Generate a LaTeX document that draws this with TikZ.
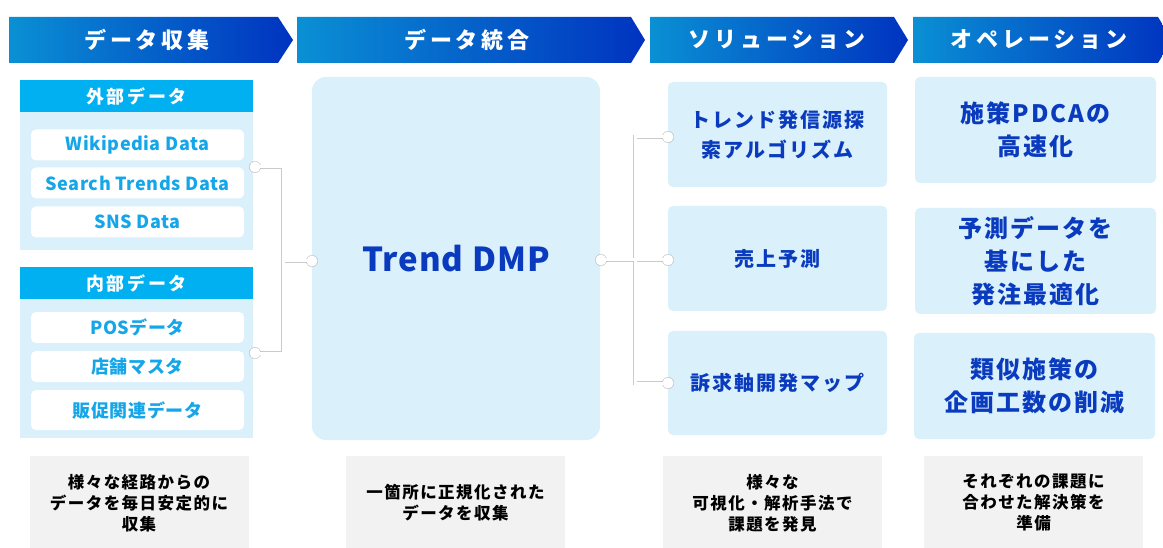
\documentclass[tikz,border=0pt]{standalone}
\usepackage{fontspec}
\setmainfont{Noto Sans CJK JP}
\usetikzlibrary{calc}
\definecolor{hdrL}{HTML}{0A90D4}
\definecolor{hdrR}{HTML}{0033C0}
\definecolor{cyanH}{HTML}{00B0F0}
\definecolor{panelC}{HTML}{DAF0FA}
\definecolor{itemT}{HTML}{14A6E8}
\definecolor{darkT}{HTML}{0A3BBE}
\definecolor{grayB}{HTML}{F2F2F2}
\definecolor{shadowC}{HTML}{B4B4B4}
\tikzset{
  hdrtext/.style={text=white,font=\bfseries\fontsize{22}{26}\selectfont\addfontfeatures{LetterSpace=18}},
  panelhdr/.style={fill=cyanH,minimum width=233pt,minimum height=32pt,inner sep=0pt,text=white,font=\bfseries\fontsize{18}{22}\selectfont\addfontfeatures{LetterSpace=15}},
  panelbody/.style={fill=panelC,minimum width=233pt,inner sep=0pt},
  itembox/.style={fill=white,rounded corners=5pt,minimum width=213pt,minimum height=31pt,inner sep=0pt,text=itemT,font=\bfseries\fontsize{18}{22}\selectfont\addfontfeatures{LetterSpace=3}},
  dmpbox/.style={fill=panelC,rounded corners=14pt,minimum width=288pt,minimum height=363pt,inner sep=0pt,text=darkT,font=\bfseries\fontsize{33}{38}\selectfont\addfontfeatures{LetterSpace=3}},
  solbox/.style={fill=panelC,rounded corners=5pt,minimum width=219pt,minimum height=105pt,inner sep=0pt,text=darkT,align=center,font=\bfseries\fontsize{20}{30}\selectfont\addfontfeatures{LetterSpace=10}},
  opbox/.style={fill=panelC,rounded corners=5pt,minimum width=241pt,minimum height=106pt,inner sep=0pt,text=darkT,align=center,font=\bfseries\fontsize{24}{33}\selectfont\addfontfeatures{LetterSpace=8}},
  notebox/.style={fill=grayB,minimum width=219pt,minimum height=94pt,inner sep=0pt,text=black,align=center,font=\bfseries\fontsize{16.5}{21}\selectfont\addfontfeatures{LetterSpace=9}},
  dotnode/.style={circle,fill=white,minimum size=11pt,inner sep=0pt},
  connshadow/.style={draw=shadowC,line width=4pt,opacity=0.7},
  conn/.style={draw=white,line width=3pt},
}
\newcommand{\chev}[3]{%
  \shade[left color=hdrL,right color=hdrR] (#1,17) -- (#2,17) -- (#3,40) -- (#2,63) -- (#1,63) -- cycle;}
\begin{document}
\begin{tikzpicture}[x=1pt,y=-1pt]
\useasboundingbox (0,0) rectangle (1163,548);
\fill[white] (0,0) rectangle (1163,548);
\begin{scope}
\clip (0,0) rectangle (1163,548);
% header chevrons
\chev{9}{278}{293}
\chev{297}{631}{645}
\chev{650}{894}{908}
\chev{913}{1158}{1172}
\end{scope}
\node[hdrtext] (h1) at (147,40) {データ収集};
\node[hdrtext] (h2) at (467,40) {データ統合};
\node[hdrtext] (h3) at (777,40) {ソリューション};
\node[hdrtext] (h4) at (1039,40) {オペレーション};

% left panels
\node[panelbody,minimum height=138pt] (extb) at (136.5,181) {};
\node[panelhdr] (exth) at (136.5,96) {外部データ};
\node[itembox] (wiki) at (137.5,145) {Wikipedia Data};
\node[itembox] (search) at (137.5,183) {Search Trends Data};
\node[itembox] (sns) at (137.5,222) {SNS Data};

\node[panelbody,minimum height=139pt] (intb) at (136.5,368.5) {};
\node[panelhdr] (inth) at (136.5,283) {内部データ};
\node[itembox] (pos) at (137.5,327.5) {POSデータ};
\node[itembox] (store) at (137.5,366.5) {店舗マスタ};
\node[itembox,minimum height=40pt] (promo) at (137.5,410) {販促関連データ};

% DMP
\node[dmpbox] (dmp) at (456,258.5) {Trend DMP};

% solutions
\node[solbox] (s1) at (777.5,134.5) {トレンド発信源探\\索アルゴリズム};
\node[solbox] (s2) at (777.5,258.5) {売上予測};
\node[solbox,minimum height=104pt] (s3) at (777.5,383) {訴求軸開発マップ};

% operations
\node[opbox] (o1) at (1035.5,130) {施策PDCAの\\高速化};
\node[opbox] (o2) at (1035.5,261) {予測データを\\基にした\\発注最適化};
\node[opbox] (o3) at (1034.5,386) {類似施策の\\企画工数の削減};

% notes
\node[notebox] (n1) at (139,503) {様々な経路からの\\データを毎日安定的に\\収集};
\node[notebox] (n2) at (455.5,503) {一箇所に正規化された\\データを収集};
\node[notebox] (n3) at (772.5,503) {様々な\\可視化・解析手法で\\課題を発見};
\node[notebox] (n4) at (1033.5,503) {それぞれの課題に\\合わせた解決策を\\準備};

% connector points
\coordinate (dA) at (255,167);
\coordinate (dB) at (255,353);
\coordinate (dC) at (312,261);
\coordinate (jA) at (283,167);
\coordinate (jB) at (283,353);
\coordinate (jM) at (283,261);
\coordinate (dD) at (601,260);
\coordinate (dE) at (668,137);
\coordinate (dF) at (668,260);
\coordinate (dG) at (668,383);
\coordinate (jE) at (635,137);
\coordinate (jG) at (635,383);

% shadows
\begin{scope}[shift={(-1.5,2)}]
\draw[connshadow] (dA) -- (jA) -- (jB) -- (dB);
\draw[connshadow] (jM) -- (dC);
\draw[connshadow] (dE) -- (jE) -- (jG) -- (dG);
\draw[connshadow] (dD) -- (dF);
\foreach \p in {dA,dB,dC,dD,dE,dF,dG} \fill[shadowC,opacity=0.7] (\p) circle (6pt);
\end{scope}
% white lines
\draw[conn] (dA) -- (jA) -- (jB) -- (dB);
\draw[conn] (jM) -- (dC);
\draw[conn] (dE) -- (jE) -- (jG) -- (dG);
\draw[conn] (dD) -- (dF);
\node[dotnode] (pA) at (dA) {};
\node[dotnode] (pB) at (dB) {};
\node[dotnode] (pC) at (dC) {};
\node[dotnode] (pD) at (dD) {};
\node[dotnode] (pE) at (dE) {};
\node[dotnode] (pF) at (dF) {};
\node[dotnode] (pG) at (dG) {};
\end{tikzpicture}
\end{document}
